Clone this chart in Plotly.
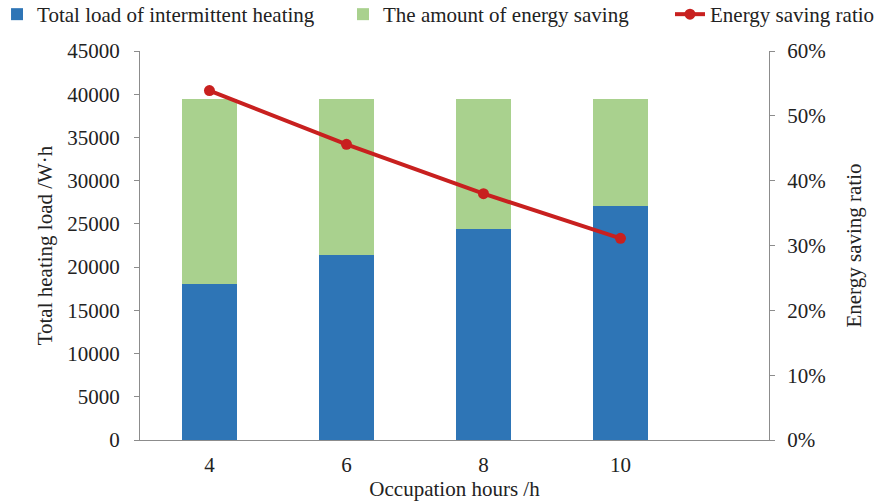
import plotly.graph_objects as go

hours = ["4", "6", "8", "10"]
intermittent_load = [18100, 21400, 24400, 27100]
energy_saving = [21300, 18000, 15000, 12300]
saving_ratio = [0.539, 0.456, 0.380, 0.311]

FONT = "Liberation Serif"
AX = "#8c8c8c"
FS = 21
LFS = 21

fig = go.Figure()
fig.add_trace(go.Bar(x=hours, y=intermittent_load, name="Total load of intermittent heating",
                     marker=dict(color="#2e75b6", line=dict(width=0)), width=0.4,
                     legend="legend"))
fig.add_trace(go.Bar(x=hours, y=energy_saving, name="The amount of energy saving",
                     marker=dict(color="#a9d18e", line=dict(width=0)), width=0.4,
                     legend="legend2"))
fig.add_trace(go.Scatter(x=hours, y=saving_ratio, name="Energy saving ratio", yaxis="y2",
                         mode="lines+markers", line=dict(color="#c8201f", width=4),
                         marker=dict(color="#c8201f", size=11), legend="legend3"))

def leg(x):
    return dict(orientation="h", xref="paper", yref="paper", x=x, y=1.1465,
                xanchor="left", yanchor="top", bgcolor="rgba(0,0,0,0)",
                font=dict(family=FONT, size=LFS, color="#222222"), borderwidth=0)

fig.update_layout(
    width=881, height=504,
    barmode="stack",
    paper_bgcolor="white", plot_bgcolor="white",
    margin=dict(l=140, r=112, t=51, b=64, autoexpand=False),
    font=dict(family=FONT, size=FS, color="#222222"),
    showlegend=True,
    legend=leg(-0.2273),
    legend2=leg(0.3227),
    legend3=leg(0.8426),
    xaxis=dict(type="category", range=[-0.507, 4.084], showline=True, linecolor=AX, linewidth=1,
               ticks="", showgrid=False, zeroline=False, automargin=False, ticklabelstandoff=6,
               title=dict(text="Occupation hours /h", standoff=2, font=dict(size=FS))),
    yaxis=dict(range=[0, 45000], dtick=5000, showline=True, linecolor=AX, linewidth=1,
               ticks="outside", ticklen=5, tickcolor=AX, showgrid=False, zeroline=False,
               tickformat="d", automargin=False, ticklabelstandoff=10,
               title=dict(text="Total heating load /W·h", standoff=8, font=dict(size=FS))),
    yaxis2=dict(overlaying="y", side="right", range=[0, 0.6], dtick=0.1, tickformat=".0%",
                showline=True, linecolor=AX, linewidth=1, ticks="outside", ticklen=5,
                tickcolor=AX, showgrid=False, zeroline=False, automargin=False,
                ticklabelstandoff=8,
                title=dict(text="Energy saving ratio", standoff=21, font=dict(size=FS))),
)

fig.write_html("out.html", config={"displayModeBar": False},
               post_script="document.body.style.margin='0';")
